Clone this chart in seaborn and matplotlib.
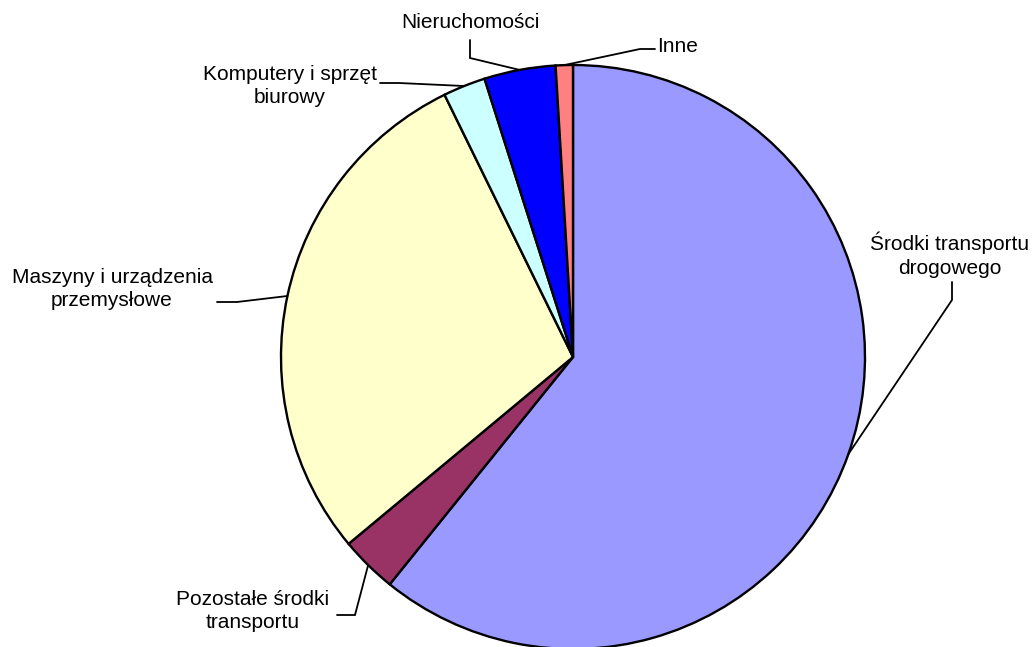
import numpy as np
import matplotlib
matplotlib.use("Agg")
import matplotlib.pyplot as plt
import seaborn as sns

# ---- data ----
categories = ["Środki transportu\ndrogowego", "Pozostałe środki\ntransportu",
              "Maszyny i urządzenia\nprzemysłowe", "Komputery i sprzęt\nbiurowy",
              "Nieruchomości", "Inne"]
shares = [60.8, 3.15, 28.8, 2.35, 3.95, 0.95]
colors = ["#9999FF", "#993366", "#FFFFCC", "#CCFFFF", "#0000FF", "#FF8080"]

sns.set_theme(style="white")
plt.rcParams["font.family"] = ["Liberation Sans", "DejaVu Sans"]

W, H = 1035, 647
fig = plt.figure(figsize=(W / 100, H / 100), dpi=100)
ax = fig.add_axes([0, 0, 1, 1])

cx, cy, R = 573, H - 357, 292
wedges, _ = ax.pie(shares, colors=colors, startangle=90, counterclock=False,
                   center=(cx, cy), radius=R,
                   wedgeprops=dict(edgecolor="black", linewidth=1.7))

# label layout: (text x, text y, ha, elbow point, end point) in pixel coords (y down)
layout = [
    (950, 255, "center", (952, 300), (952, 282)),
    (253, 611, "center", (355, 615), (337, 615)),
    (112, 289, "center", (237, 302), (217, 302)),
    (290, 86, "center", (399, 83), (380, 83)),
    (470, 22, "center", (470, 58), (470, 40)),
    (657, 47, "left", (640, 49), (655, 49)),
]

for w, lab, (tx, ty, ha, elb, end) in zip(wedges, categories, layout):
    mid = np.deg2rad((w.theta1 + w.theta2) / 2)
    ax_ = cx + R * np.cos(mid)
    ay_ = cy + R * np.sin(mid)
    ax.plot([ax_, elb[0], end[0]], [ay_, H - elb[1], H - end[1]],
            color="black", lw=1.3, solid_joinstyle="miter", zorder=3)
    ax.text(tx, H - ty, lab, ha=ha, va="center", fontsize=15, color="black",
            multialignment="center", linespacing=1.3)

ax.set_xlim(0, W)
ax.set_ylim(0, H)
ax.set_aspect("equal")
ax.axis("off")
fig.savefig("out.png", dpi=100, facecolor="white")
